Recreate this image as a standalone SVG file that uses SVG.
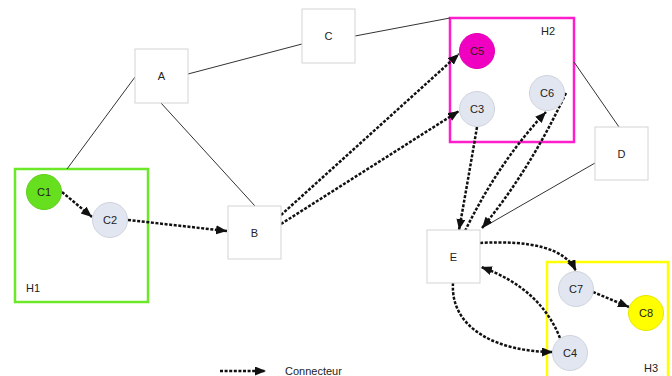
<svg xmlns="http://www.w3.org/2000/svg" width="672" height="376" viewBox="0 0 672 376">
<defs>
<marker id="arr" markerUnits="userSpaceOnUse" markerWidth="13" markerHeight="10" refX="11" refY="4.5" orient="auto">
<path d="M0,0 L11,4.5 L0,9 Z" fill="#111"/>
</marker>
</defs>
<style>
.box{fill:#fff;stroke:#d4d4d4;stroke-width:1}
.cir{fill:#e1e6f0;stroke:#cfd3dc;stroke-width:1}
.lbl{font-family:"Liberation Sans",Arial,sans-serif;font-size:11px;fill:#222;text-anchor:middle;dominant-baseline:central}
.grp{font-family:"Liberation Sans",Arial,sans-serif;font-size:11px;fill:#222}
.solid{fill:none;stroke:#333;stroke-width:1}
.dash{fill:none;stroke:#111;stroke-width:2.5;stroke-dasharray:3 1.6;marker-end:url(#arr)}
</style>
<rect width="672" height="376" fill="#fff"/>
<g id="H1"><rect x="15" y="169" width="133" height="133" fill="none" stroke="#6be827" stroke-width="2.5"/><text class="grp" x="26" y="292">H1</text></g>
<g id="H2"><rect x="450" y="18" width="124" height="124" fill="none" stroke="#ff1ecb" stroke-width="2.5"/><text class="grp" x="541" y="35">H2</text></g>
<g id="H3"><rect x="547" y="262" width="121" height="130" fill="none" stroke="#ffff00" stroke-width="2.5"/><text class="grp" x="644" y="372">H3</text></g>
<g id="connectors">
<line class="solid" x1="135" y1="77" x2="67" y2="169"/>
<line class="solid" x1="161" y1="103" x2="255" y2="206"/>
<line class="solid" x1="188" y1="74" x2="302" y2="44"/>
<line class="solid" x1="355" y1="36" x2="450" y2="18"/>
<line class="solid" x1="574" y1="62" x2="619" y2="127"/>
<line class="solid" x1="595" y1="163" x2="482" y2="228"/>
<path class="dash" d="M62,192 L92,217"/>
<path class="dash" d="M128,220 L227,231"/>
<path class="dash" d="M281,215 L459,54"/>
<path class="dash" d="M281,224 L459,111"/>
<path class="dash" d="M477,127 Q468,180 459,230"/>
<path class="dash" d="M465,231 Q500,160 546,112"/>
<path class="dash" d="M566,93 Q530,170 482,228"/>
<path class="dash" d="M480,243 C530,240 565,248 576,271"/>
<path class="dash" d="M593,292 L629,307"/>
<path class="dash" d="M560,338 Q540,288 481,267"/>
<path class="dash" d="M453,283 C450,330 500,352 553,352"/>
</g>
<g id="A"><rect class="box" x="135" y="49" width="53" height="54"/><text class="lbl" x="161.5" y="76">A</text></g>
<g id="C"><rect class="box" x="302" y="9" width="53" height="54"/><text class="lbl" x="328.5" y="36">C</text></g>
<g id="B"><rect class="box" x="228" y="206" width="53" height="53"/><text class="lbl" x="254.5" y="232.5">B</text></g>
<g id="D"><rect class="box" x="595" y="127" width="53" height="53"/><text class="lbl" x="621.5" y="153.5">D</text></g>
<g id="E"><rect class="box" x="427" y="230" width="53" height="53"/><text class="lbl" x="453.5" y="256.5">E</text></g>
<g id="C1"><circle cx="44" cy="192" r="17.5" fill="#66e01e" stroke="#5ccf18"/><text class="lbl" x="44" y="192">C1</text></g>
<g id="C2"><circle class="cir" cx="110" cy="220" r="17.5"/><text class="lbl" x="110" y="220">C2</text></g>
<g id="C5"><circle cx="477" cy="51" r="17.5" fill="#f000c0" stroke="#e000b4"/><text class="lbl" x="477" y="51">C5</text></g>
<g id="C3"><circle class="cir" cx="477" cy="109" r="17.5"/><text class="lbl" x="477" y="109">C3</text></g>
<g id="C6"><circle class="cir" cx="547" cy="93" r="17.5"/><text class="lbl" x="547" y="93">C6</text></g>
<g id="C7"><circle class="cir" cx="576" cy="289" r="17.5"/><text class="lbl" x="576" y="289">C7</text></g>
<g id="C8"><circle cx="646" cy="313" r="17.5" fill="#ffff00" stroke="#e6e600"/><text class="lbl" x="646" y="313">C8</text></g>
<g id="C4"><circle class="cir" cx="570" cy="353" r="17.5"/><text class="lbl" x="570" y="353">C4</text></g>
<g id="legend"><path class="dash" d="M220,371 L266,371"/><text class="grp" x="285" y="375">Connecteur</text></g>
</svg>
